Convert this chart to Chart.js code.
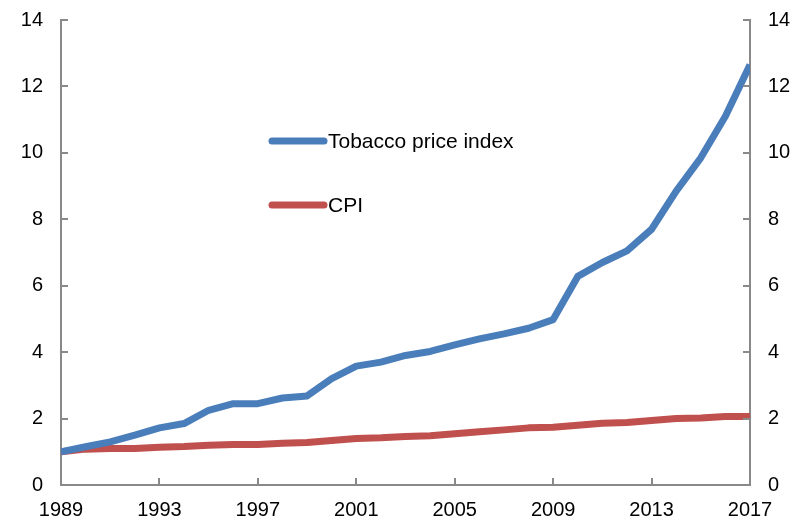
<!DOCTYPE html>
<html>
<head>
<meta charset="utf-8">
<script src="https://cdn.jsdelivr.net/npm/chart.js@4/dist/chart.umd.min.js"></script>
<style>
  html, body { margin: 0; padding: 0; background: #fff; }
  #wrap { width: 806px; height: 519px; }
</style>
</head>
<body>
<div id="wrap"><canvas id="myChart" width="806" height="519"></canvas></div>
<script>
const years = [1989,1990,1991,1992,1993,1994,1995,1996,1997,1998,1999,2000,2001,2002,2003,
  2004,2005,2006,2007,2008,2009,2010,2011,2012,2013,2014,2015,2016,2017];
const tobacco = [1.0,1.15,1.3,1.5,1.72,1.85,2.25,2.45,2.45,2.62,2.68,3.2,3.58,3.7,3.9,
  4.02,4.22,4.4,4.55,4.72,4.98,6.28,6.7,7.05,7.7,8.85,9.85,11.1,12.65];
const cpi = [1.0,1.08,1.1,1.1,1.14,1.16,1.2,1.22,1.22,1.26,1.28,1.34,1.4,1.42,1.46,
  1.48,1.54,1.6,1.66,1.72,1.74,1.8,1.86,1.88,1.94,2.0,2.02,2.06,2.06];
const yTicks = [0,2,4,6,8,10,12,14];
const xTicks = [1989,1993,1997,2001,2005,2009,2013,2017];

const font = {family: "'Liberation Sans', Arial, sans-serif", size: 20};
const axisColor = '#898989';

// inner tick marks + legend drawn inside the plot
const extras = {
  id: 'extras',
  afterDraw(chart) {
    const c = chart.ctx, a = chart.chartArea;
    const x = chart.scales.x, y = chart.scales.y;
    c.save();
    c.strokeStyle = axisColor;
    c.lineWidth = 2;
    c.beginPath();
    yTicks.forEach(v => {
      const py = Math.round(y.getPixelForValue(v));
      c.moveTo(a.left, py); c.lineTo(a.left + 7, py);
      c.moveTo(a.right, py); c.lineTo(a.right - 7, py);
    });
    xTicks.forEach(v => {
      const px = Math.round(x.getPixelForValue(v));
      c.moveTo(px, a.bottom); c.lineTo(px, a.bottom - 7);
    });
    c.stroke();

    // legend
    const items = chart.data.datasets;
    const rows = [141, 205];
    c.lineCap = 'round';
    c.lineWidth = 7;
    c.font = "21px 'Liberation Sans', Arial, sans-serif";
    c.textBaseline = 'middle';
    c.fillStyle = '#000';
    items.forEach((ds, i) => {
      c.strokeStyle = ds.borderColor;
      c.beginPath();
      c.moveTo(272, rows[i]); c.lineTo(324, rows[i]);
      c.stroke();
      c.fillText(ds.label, 328, rows[i] + 1);
    });
    c.restore();
  }
};

// fixed side widths, no extra label padding at top
const fitY = w => s => { s.width = w; s.paddingTop = 0; s.paddingBottom = 0; };

const ctx = document.getElementById('myChart').getContext('2d');
const data = {
  datasets: [{
    label: 'Tobacco price index',
    data: years.map((yr, i) => ({x: yr, y: tobacco[i]})),
    borderColor: '#4a7ebb',
    borderWidth: 7,
    pointRadius: 0,
    borderJoinStyle: 'round'
  }, {
    label: 'CPI',
    data: years.map((yr, i) => ({x: yr, y: cpi[i]})),
    borderColor: '#c0504d',
    borderWidth: 7,
    pointRadius: 0,
    borderJoinStyle: 'round'
  }]
};

const config = {
  type: 'line',
  data: data,
  plugins: [extras],
  options: {
    responsive: false,
    animation: false,
    layout: {padding: {top: 20, left: 0, right: 0, bottom: 0}},
    plugins: {legend: {display: false}, tooltip: {enabled: false}},
    scales: {
      x: {
        type: 'linear',
        min: 1989, max: 2017,
        afterBuildTicks: s => { s.ticks = xTicks.map(v => ({value: v})); },
        afterFit: s => { s.height = 34; },
        ticks: {font: font, color: '#000', padding: 13, maxRotation: 0,
          callback: v => String(v)},
        grid: {display: false, drawTicks: false},
        border: {color: axisColor, width: 2}
      },
      y: {
        min: 0, max: 14,
        position: 'left',
        afterBuildTicks: s => { s.ticks = yTicks.map(v => ({value: v})); },
        afterFit: fitY(61),
        ticks: {font: font, color: '#000', padding: 18},
        grid: {display: false, drawTicks: false},
        border: {color: axisColor, width: 2}
      },
      y2: {
        min: 0, max: 14,
        position: 'right',
        afterBuildTicks: s => { s.ticks = yTicks.map(v => ({value: v})); },
        afterFit: fitY(56),
        ticks: {font: font, color: '#000', padding: 18},
        grid: {display: false, drawTicks: false},
        border: {color: axisColor, width: 2}
      }
    }
  }
};
const myChart = new Chart(ctx, config);
</script>
</body>
</html>
